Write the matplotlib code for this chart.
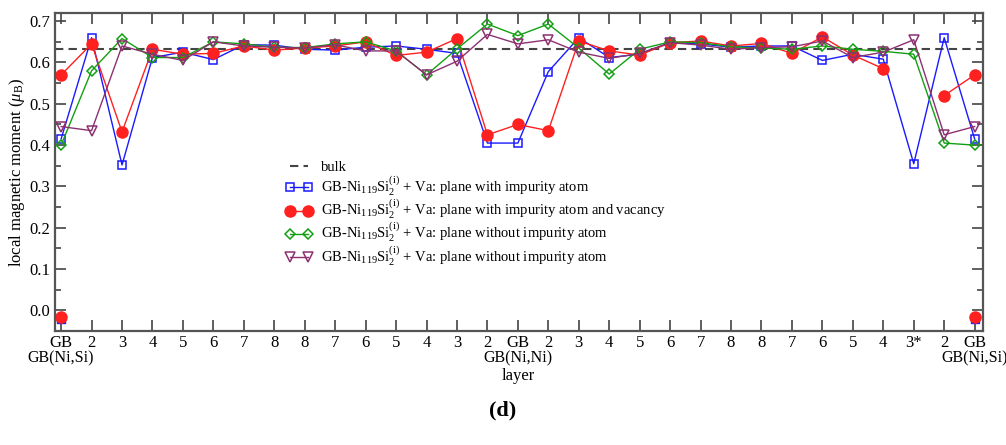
import numpy as np
import matplotlib.pyplot as plt
import matplotlib.transforms as mtransforms
from matplotlib.ticker import MultipleLocator

plt.rcParams['font.family'] = ['Liberation Serif', 'DejaVu Serif']
plt.rcParams['mathtext.fontset'] = 'custom'
plt.rcParams['mathtext.rm'] = 'Liberation Serif'
plt.rcParams['mathtext.it'] = 'Liberation Serif:italic'

# layer labels along the supercell
layers = ['GB', '2', '3', '4', '5', '6', '7', '8', '8', '7', '6', '5', '4', '3', '2',
          'GB', '2', '3', '4', '5', '6', '7', '8', '8', '7', '6', '5', '4', '3*', '2', 'GB']
# boundary type written under the GB layers
gb_types = {0: 'GB(Ni,Si)', 15: 'GB(Ni,Ni)', 30: 'GB(Ni,Si)'}

bulk = 0.632

# plane with impurity atom
m_imp = [0.415, 0.660, 0.352, 0.612, 0.625, 0.607, 0.643, 0.642, 0.632, 0.630, 0.637,
         0.640, 0.632, 0.622, 0.405, 0.405, 0.578, 0.660, 0.612, 0.620, 0.648, 0.645,
         0.637, 0.640, 0.640, 0.605, 0.620, 0.608, 0.355, 0.660, 0.415]
# plane with impurity atom and vacancy (no atom at the 3* site)
m_vac = [0.570, 0.645, 0.432, 0.632, 0.620, 0.622, 0.640, 0.630, 0.635, 0.640, 0.650,
         0.617, 0.625, 0.658, 0.425, 0.450, 0.435, 0.652, 0.628, 0.618, 0.648, 0.652,
         0.640, 0.646, 0.622, 0.662, 0.618, 0.585, np.nan, 0.520, 0.570]
# planes without impurity atom
m_noimp1 = [0.400, 0.580, 0.658, 0.612, 0.612, 0.650, 0.645, 0.637, 0.636, 0.645, 0.650,
            0.628, 0.570, 0.633, 0.693, 0.665, 0.693, 0.635, 0.572, 0.632, 0.650, 0.648,
            0.638, 0.635, 0.632, 0.640, 0.632, 0.627, 0.620, 0.405, 0.400]
m_noimp2 = [0.445, 0.435, 0.640, 0.620, 0.605, 0.650, 0.640, 0.637, 0.635, 0.643, 0.628,
            0.628, 0.570, 0.603, 0.668, 0.645, 0.655, 0.625, 0.610, 0.622, 0.648, 0.642,
            0.632, 0.636, 0.638, 0.652, 0.612, 0.625, 0.655, 0.425, 0.445]

# impurity atom moments at the GB(Ni,Si) boundaries
gb_pos = [0, 30]
gb_imp = [-0.020, -0.020]
gb_vac = [-0.015, -0.015]

x = np.arange(len(layers))

fig = plt.figure(figsize=(10.06, 4.45), dpi=100)
ax = fig.add_axes([0.0547, 0.256, 0.922, 0.715])

ax.axhline(bulk, color='#444444', ls='--', lw=1.5, dashes=(4, 2.5), label='bulk', zorder=1)

lab = r'GB-Ni$_{119}$Si$_2^{\mathrm{(i)}}$ + Va: '
ax.plot(x, m_imp, color='#1a1aff', lw=1.0, marker='s', ms=6, mfc='none', mew=1.1,
        label=lab + 'plane with impurity atom')
ax.plot(x, m_vac, color='#ff2020', lw=1.0, marker='o', ms=8, mfc='#ff2020', mec='#ff2020',
        label=lab + 'plane with impurity atom and vacancy')
ax.plot(x, m_noimp1, color='#12a012', lw=1.0, marker='D', ms=5, mfc='none', mew=1.1,
        label=lab + 'plane without impurity atom')
ax.plot(x, m_noimp2, color='#8c3070', lw=1.0, marker='v', ms=7, mfc='none', mew=1.1,
        label=lab + 'plane without impurity atom')
ax.plot(gb_pos, gb_imp, ls='none', marker='s', ms=6, color='#1a1aff', mfc='#1a1aff')
ax.plot(gb_pos, gb_vac, ls='none', marker='o', ms=8, color='#ff2020')

ax.set_xlim(-0.2, 30.26)
ax.set_ylim(-0.05, 0.72)
ax.yaxis.set_minor_locator(MultipleLocator(0.05))
ax.set_yticks(np.arange(0, 0.71, 0.1))

ax.set_xticks(x)
ax.set_xticklabels(layers, fontsize=12)
for t in ax.get_yticklabels():
    t.set_fontsize(12)

# second line under the GB ticks
trans = mtransforms.blended_transform_factory(ax.transData, fig.transFigure)
for pos, name in gb_types.items():
    ax.text(pos, 1 - 358 / 445, name, transform=trans, ha='center', va='center',
            fontsize=11.5)

ax.tick_params(which='both', direction='in', top=True, right=True, color='#444444')
ax.tick_params(which='major', length=8, width=1.2)
ax.tick_params(which='minor', length=4, width=1.2)
ax.tick_params(axis='x', pad=3)
for s in ax.spines.values():
    s.set_color('#555555')
    s.set_linewidth(1.6)

ax.set_xlabel('layer', fontsize=12, labelpad=12)
ax.set_ylabel(r'local magnetic moment ($\mu_{\mathrm{B}}$)', fontsize=12, labelpad=2)

ax.legend(loc='upper left', bbox_to_anchor=(0.235, 0.575), frameon=False, fontsize=10.5,
          numpoints=2, handlelength=1.8, handletextpad=0.6, labelspacing=0.0)

fig.text(0.5, 1 - 410 / 445, '(d)', ha='center', va='center', fontsize=16, fontweight='bold')

fig.savefig('out.png', dpi=100)
